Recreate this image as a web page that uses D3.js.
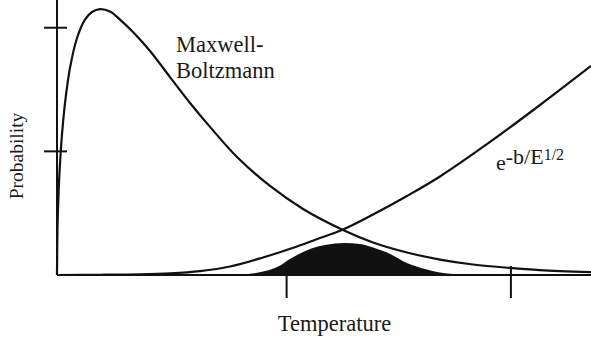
<!DOCTYPE html>
<html>
<head>
<meta charset="utf-8">
<script src="https://cdn.jsdelivr.net/npm/d3@7"></script>
<style>
  html, body { margin: 0; padding: 0; background: #fff; }
  svg { display: block; }
</style>
</head>
<body>
<svg id="chart" width="591" height="340"></svg>
<script>
// Energy (arbitrary units) along the horizontal axis.
// Maxwell-Boltzmann distribution
const mbEnergy = [0, 0.009, 0.019, 0.038, 0.066, 0.094, 0.15, 0.243, 0.375, 0.524, 0.655, 0.805, 0.993, 1.18, 1.423, 1.742, 2.116, 2.491, 2.865, 3.371, 3.989, 4.607, 5.356, 5.918, 6.554, 7.172, 7.79, 8.483, 9.045, 10];
const mbProb   = [0, 0.380, 0.534, 0.752, 0.971, 1.140, 1.391, 1.674, 1.917, 2.066, 2.127, 2.151, 2.131, 2.066, 1.965, 1.812, 1.601, 1.391, 1.198, 0.954, 0.720, 0.534, 0.364, 0.263, 0.182, 0.125, 0.085, 0.057, 0.040, 0.024];

// Tunnelling factor e^(-b/E^1/2)
const tunEnergy = [0, 0.805, 1.554, 2.116, 2.678, 3.240, 3.858, 4.494, 4.925, 5.356, 5.918, 6.554, 7.172, 8.109, 9.045, 10];
const tunProb   = [0, 0.002, 0.006, 0.014, 0.032, 0.069, 0.142, 0.231, 0.299, 0.368, 0.489, 0.639, 0.797, 1.076, 1.375, 1.691];

// Product of the two: the reaction window (filled)
const peakEnergy = [3.05, 3.43, 3.86, 4.18, 4.36, 4.55, 4.79, 5.02, 5.39, 5.67, 5.92, 6.24, 6.55, 6.89, 7.17, 7.55, 7.83];
const peakProb   = [0, 0.004, 0.028, 0.077, 0.129, 0.174, 0.218, 0.243, 0.259, 0.251, 0.222, 0.170, 0.097, 0.049, 0.020, 0.004, 0];

const xTicks = [4.3, 8.5];
const yTicks = [1, 2];

const svg = d3.select("#chart");
const x = d3.scaleLinear().domain([0, 10]).range([57, 591]);
const y = d3.scaleLinear().domain([0, 2.2]).range([275, 3]);

const zip = (xs, ys) => xs.map((v, i) => [v, ys[i]]);

const line = d3.line()
  .x(d => x(d[0]))
  .y(d => y(d[1]))
  .curve(d3.curveCatmullRom.alpha(0.5));

const area = d3.area()
  .x(d => x(d[0]))
  .y0(y(0))
  .y1(d => y(d[1]))
  .curve(d3.curveMonotoneX);

const ink = "#111";
const serif = "'Liberation Serif', 'Times New Roman', Times, serif";

// filled overlap region
svg.append("path")
  .datum(zip(peakEnergy, peakProb))
  .attr("d", area)
  .attr("fill", ink);

// axes
svg.append("line")
  .attr("x1", x(0)).attr("x2", x(0))
  .attr("y1", y(0)).attr("y2", 0)
  .attr("stroke", ink).attr("stroke-width", 2);
svg.append("line")
  .attr("x1", x(0)).attr("x2", x(10))
  .attr("y1", y(0)).attr("y2", y(0))
  .attr("stroke", ink).attr("stroke-width", 2);

// y ticks cross the axis
svg.selectAll(".ytick").data(yTicks).enter().append("line")
  .attr("class", "ytick")
  .attr("x1", x(0) - 13).attr("x2", x(0) + 10)
  .attr("y1", d => y(d)).attr("y2", d => y(d))
  .attr("stroke", ink).attr("stroke-width", 2);

// x ticks cross the axis
svg.selectAll(".xtick").data(xTicks).enter().append("line")
  .attr("class", "xtick")
  .attr("x1", d => x(d)).attr("x2", d => x(d))
  .attr("y1", y(0) - 9).attr("y2", y(0) + 23)
  .attr("stroke", ink).attr("stroke-width", 2);

// curves
svg.append("path")
  .datum(zip(mbEnergy, mbProb))
  .attr("d", line)
  .attr("fill", "none").attr("stroke", ink).attr("stroke-width", 2.2);

svg.append("path")
  .datum(zip(tunEnergy, tunProb))
  .attr("d", line)
  .attr("fill", "none").attr("stroke", ink).attr("stroke-width", 2.2);

// labels
const label = (sel) => sel.attr("font-family", serif).attr("fill", "#1a1a1a");

label(svg.append("text")).attr("x", 176).attr("y", 52).attr("font-size", 22.5).text("Maxwell-");
label(svg.append("text")).attr("x", 176).attr("y", 78).attr("font-size", 22.5).text("Boltzmann");

const eq = label(svg.append("text")).attr("x", 496).attr("y", 170).attr("font-size", 22);
eq.append("tspan").text("e");
eq.append("tspan").attr("dy", -6).text("-b/E");
eq.append("tspan").attr("dy", -4).attr("font-size", 16).text("1/2");

label(svg.append("text"))
  .attr("x", 334.5).attr("y", 331)
  .attr("text-anchor", "middle")
  .attr("font-size", 22.5)
  .text("Temperature");

label(svg.append("text"))
  .attr("transform", "translate(23,156) rotate(-90)")
  .attr("text-anchor", "middle")
  .attr("font-size", 19.5)
  .text("Probability");
</script>
</body>
</html>
